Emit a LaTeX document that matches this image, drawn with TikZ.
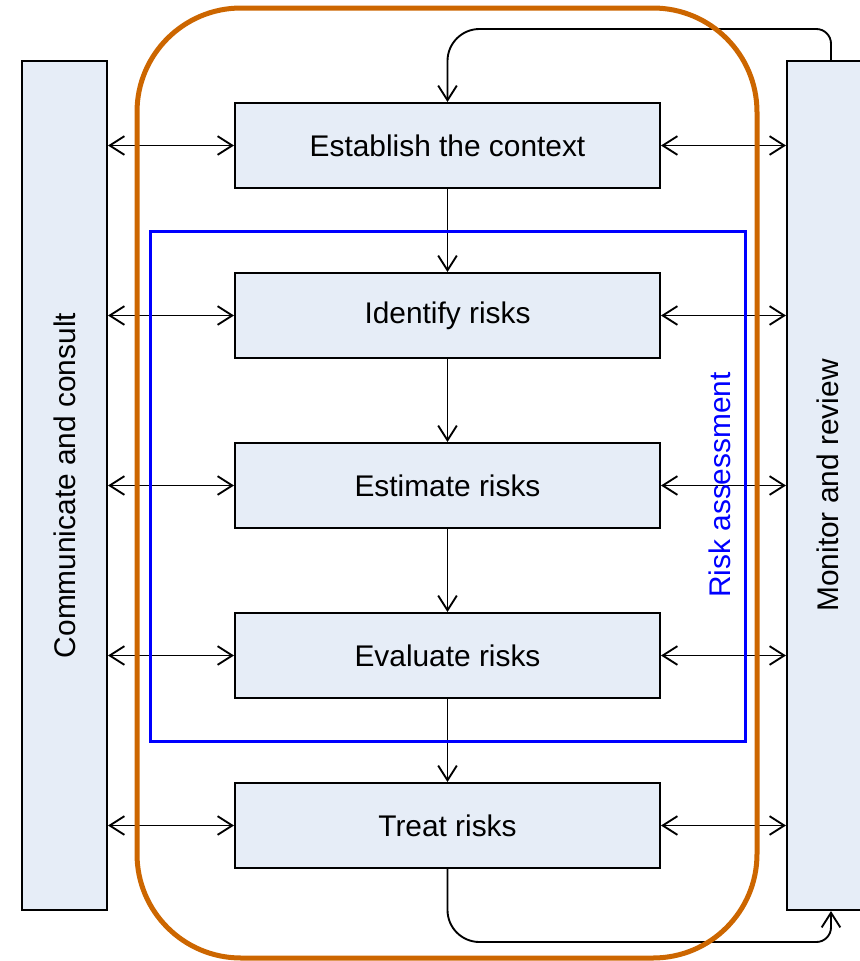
\documentclass[tikz,border=0pt]{standalone}
\usepackage{fontspec}
\setmainfont{Liberation Sans}
\usetikzlibrary{arrows.meta}

\definecolor{boxfill}{RGB}{230,237,247}
\definecolor{loopcol}{RGB}{204,102,0}

\tikzset{
  stepbox/.style={draw, line width=1.5pt, fill=boxfill, minimum width=318.75pt, minimum height=63.75pt},
  sidebox/.style={draw, line width=1.5pt, fill=boxfill, minimum width=63.75pt, minimum height=636.75pt},
  flow/.style={line width=1.4pt, -{Straight Barb[length=11pt,width=14pt]}},
  twoway/.style={line width=1.4pt, {Straight Barb[length=11pt,width=14pt]}-{Straight Barb[length=11pt,width=14pt]}},
}

\begin{document}
\begin{tikzpicture}[x=0.75pt,y=0.75pt,yscale=-1,xscale=1,font=\fontsize{22.4}{27}\selectfont]
\useasboundingbox (0,0) rectangle (860,961);

% side boxes
\node [sidebox] (comm) at (64.5,485.5) {};
\node [rotate=90] (commtext) at (comm.center) {Communicate and consult};
\node [sidebox, minimum width=66pt] (mon) at (831,485.5) {};
\node [rotate=90] (montext) at (828,485.5) {Monitor and review};

% process steps
\node [stepbox] (est) at (447.5,145.5) {Establish the context};
\node [stepbox] (ident) at (447.5,315.5) {Identify risks};
\node [stepbox] (estim) at (447.5,485.5) {Estimate risks};
\node [stepbox] (evalu) at (447.5,655.5) {Evaluate risks};
\node [stepbox] (treat) at (447.5,825.5) {Treat risks};

\draw [flow] (est.south) -- (ident.north);
\draw [flow] (ident.south) -- (estim.north);
\draw [flow] (estim.south) -- (evalu.north);
\draw [flow] (evalu.south) -- (treat.north);

\foreach \s in {est,ident,estim,evalu,treat}{
  \draw [twoway] (comm.east |- \s.west) -- (\s.west);
  \draw [twoway] (\s.east) -- (mon.west |- \s.east);
}

% review loop
\coordinate (topright) at (831,29);
\coordinate (topleft) at (447.5,29);
\coordinate (botleft) at (447.5,942);
\coordinate (botright) at (831,942);
\draw [flow] (mon.north) [rounded corners=11pt] -- (topright) [rounded corners=24pt] -- (topleft) -- (est.north);
\draw [flow] (treat.south) [rounded corners=24pt] -- (botleft) [rounded corners=11pt] -- (botright) -- (mon.south);

% frames
\draw [color=loopcol, line width=3.75pt, rounded corners=78pt] (137,8) rectangle (757,958);
\draw [blue, line width=2.25pt] (150,231) rectangle (745,741);
\node [blue, rotate=90] (ratext) at (720,485) {Risk assessment};
\end{tikzpicture}
\end{document}
